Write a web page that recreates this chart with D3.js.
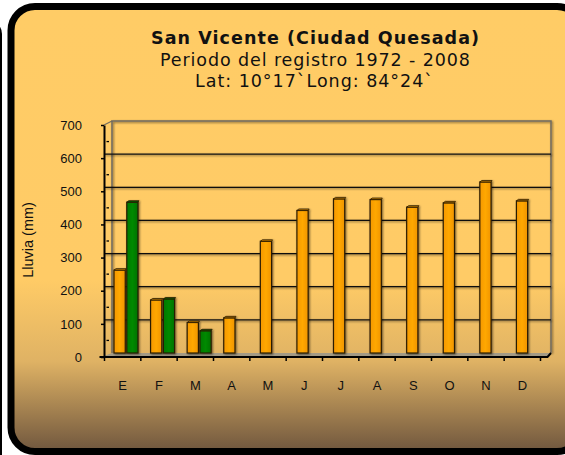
<!DOCTYPE html>
<html>
<head>
<meta charset="utf-8">
<script src="https://cdn.jsdelivr.net/npm/d3@7"></script>
<style>
  html, body { margin: 0; padding: 0; background: #fff; }
  svg { display: block; }
</style>
</head>
<body>
<div id="chart"></div>
<script>
// months (Spanish initials) and rainfall in mm
const MONTHS = ["E", "F", "M", "A", "M", "J", "J", "A", "S", "O", "N", "D"];
const SERIES = ["promedio", "registro"];
const RAIN_AVG = [250, 160, 92, 106, 337, 430, 465, 463, 440, 453, 516, 459];
const RAIN_YEAR = [455, 163, 67, null, null, null, null, null, null, null, null, null];
const Y_TICKS = [0, 100, 200, 300, 400, 500, 600, 700];
const MINOR_TICKS = [50, 150, 250, 350, 450, 550, 650];

const TITLE = "San Vicente (Ciudad Quesada)";
const SUB1 = "Periodo del registro  1972 - 2008";
const SUB2 = "Lat: 10°17`Long: 84°24`";
const Y_LABEL = "Lluvia (mm)";

var width = 565,
    height = 455;

// 3d depth offset between front axis and back wall
const DX = 8, DY = -4;

var svg = d3.select("#chart").append("svg")
  .attr("width", width)
  .attr("height", height);

var defs = svg.append("defs");
var grad = defs.append("linearGradient")
  .attr("id", "bg")
  .attr("gradientUnits", "userSpaceOnUse")
  .attr("x1", 0).attr("y1", 0).attr("x2", 0).attr("y2", 452);
grad.append("stop").attr("offset", 0).attr("stop-color", "#ffcc66");
grad.append("stop").attr("offset", 0.62).attr("stop-color", "#ffcb66");
grad.append("stop").attr("offset", 0.8).attr("stop-color", "#dfb264");
grad.append("stop").attr("offset", 1).attr("stop-color", "#6f563e");

var orangeGrad = defs.append("linearGradient").attr("id", "og")
  .attr("x1", 0).attr("x2", 1).attr("y1", 0).attr("y2", 0);
orangeGrad.append("stop").attr("offset", 0).attr("stop-color", "#f59800");
orangeGrad.append("stop").attr("offset", 0.5).attr("stop-color", "#ffa800");
orangeGrad.append("stop").attr("offset", 1).attr("stop-color", "#f09400");

var greenGrad = defs.append("linearGradient").attr("id", "gg")
  .attr("x1", 0).attr("x2", 1).attr("y1", 0).attr("y2", 0);
greenGrad.append("stop").attr("offset", 0).attr("stop-color", "#007800");
greenGrad.append("stop").attr("offset", 0.5).attr("stop-color", "#008a00");
greenGrad.append("stop").attr("offset", 1).attr("stop-color", "#007200");

// soft shadow; user space region so thin lines keep it
var blur = defs.append("filter").attr("id", "soft")
  .attr("filterUnits", "userSpaceOnUse")
  .attr("x", 0).attr("y", 0).attr("width", width).attr("height", height);
blur.append("feGaussianBlur").attr("in", "SourceAlpha").attr("stdDeviation", 1.1).attr("result", "b");
blur.append("feOffset").attr("in", "b").attr("dx", 0.5).attr("dy", 0.5).attr("result", "o");
blur.append("feComponentTransfer").attr("in", "o").attr("result", "s")
  .append("feFuncA").attr("type", "linear").attr("slope", 0.55);
var merge = blur.append("feMerge");
merge.append("feMergeNode").attr("in", "s");
merge.append("feMergeNode").attr("in", "SourceGraphic");

// neighbour panel peeking on the left
svg.append("rect")
  .attr("x", -40).attr("y", 20)
  .attr("width", 42).attr("height", 460)
  .attr("rx", 14)
  .attr("fill", "#000");

// frame
svg.append("rect")
  .attr("x", 11).attr("y", 6.5)
  .attr("width", 570).attr("height", 445)
  .attr("rx", 24)
  .attr("fill", "url(#bg)")
  .attr("stroke", "#000")
  .attr("stroke-width", 7);

// titles
var titles = svg.append("g")
  .attr("font-family", "DejaVu Sans, Verdana, sans-serif")
  .attr("text-anchor", "middle")
  .attr("fill", "#111")
  .style("white-space", "pre");
titles.append("text")
  .attr("x", 315).attr("y", 44)
  .attr("font-size", 17.5).attr("font-weight", "bold")
  .attr("textLength", 328).attr("lengthAdjust", "spacing")
  .text(TITLE);
titles.append("text")
  .attr("x", 315).attr("y", 65.5)
  .attr("font-size", 17.5)
  .attr("textLength", 310).attr("lengthAdjust", "spacing")
  .text(SUB1);
titles.append("text")
  .attr("x", 314).attr("y", 86.5)
  .attr("font-size", 17.5)
  .attr("textLength", 238).attr("lengthAdjust", "spacing")
  .text(SUB2);

// scales (back wall)
const y = d3.scaleLinear().domain([0, 700]).range([353, 121]);
const xBack = d3.scaleBand().domain(d3.range(MONTHS.length)).range([112, 551]);
const xInner = d3.scaleBand().domain(SERIES).range([2, 26]).paddingInner(0.12);
// front axis
const xFront = d3.scaleBand().domain(d3.range(MONTHS.length)).range([104.5, 540.5]);

var plot = svg.append("g");

// walls
var x0 = xBack.range()[0], x1 = xBack.range()[1];
plot.append("path")
  .attr("d", `M${x0},${y(0)}V${y(700)}H${x1}V${y(0)}`)
  .attr("fill", "none")
  .attr("stroke", "#6f6a60")
  .attr("stroke-width", 1.5)
  .attr("filter", "url(#soft)");
plot.append("line")
  .attr("x1", x0 - DX).attr("y1", y(700) - DY)
  .attr("x2", x0).attr("y2", y(700))
  .attr("stroke", "#6f6a60").attr("stroke-width", 1.2);

// gridlines
plot.append("g")
  .attr("filter", "url(#soft)")
  .selectAll("line")
  .data(Y_TICKS.filter(d => d > 0 && d < 700))
  .join("line")
    .attr("x1", x0 - DX).attr("x2", x1)
    .attr("y1", d => y(d)).attr("y2", d => y(d))
    .attr("stroke", "#111")
    .attr("stroke-width", 1.3);

// floor
plot.append("path")
  .attr("d", `M${x0},${y(0)}H${x1}L${x1 - 3},${y(0) + 3}H${x0 - DX}Z`)
  .attr("fill", "#a39a85");

// bars
var rows = [];
MONTHS.forEach((m, i) => {
  rows.push({i: i, s: "promedio", v: RAIN_AVG[i]});
  if (RAIN_YEAR[i] != null) rows.push({i: i, s: "registro", v: RAIN_YEAR[i]});
});

var bars = plot.append("g")
  .selectAll("g")
  .data(rows)
  .join("g")
    .attr("filter", "url(#soft)");

bars.append("rect")
  .attr("x", d => xBack(d.i) + xInner(d.s))
  .attr("y", d => y(d.v))
  .attr("width", xInner.bandwidth())
  .attr("height", d => y(0) - y(d.v))
  .attr("fill", d => d.s === "promedio" ? "url(#og)" : "url(#gg)")
  .attr("stroke", "#2b1c05")
  .attr("stroke-width", 1.2);

bars.append("path")
  .attr("d", d => {
    var bx = xBack(d.i) + xInner(d.s), by = y(d.v), w = xInner.bandwidth();
    return `M${bx},${by}L${bx + 2},${by - 1.5}H${bx + w + 1}L${bx + w},${by}Z`;
  })
  .attr("fill", d => d.s === "promedio" ? "#c98000" : "#005a00")
  .attr("stroke", "#2b1c05")
  .attr("stroke-width", 0.8);

// y axis (front)
var yFront = d3.scaleLinear().domain([0, 700]).range([y(0) - DY, y(700) - DY]);
var yAxis = plot.append("g")
  .attr("transform", `translate(${x0 - DX},0)`)
  .call(d3.axisLeft(yFront).tickValues(Y_TICKS).tickSize(3).tickPadding(19).tickSizeOuter(0));
yAxis.select(".domain").attr("stroke", "#000").attr("stroke-width", 2);
yAxis.selectAll(".tick line").attr("stroke", "#000").attr("stroke-width", 1.5);
yAxis.selectAll("text")
  .attr("font-family", "Liberation Sans, Arial, sans-serif")
  .attr("font-size", 13)
  .attr("fill", "#111");

// minor marks inside the axis
plot.append("g")
  .selectAll("line")
  .data(MINOR_TICKS)
  .join("line")
    .attr("x1", x0 - DX + 2.5).attr("x2", x0 - DX + 5)
    .attr("y1", d => yFront(d)).attr("y2", d => yFront(d))
    .attr("stroke", "#000")
    .attr("stroke-width", 1.3);

// x axis (front)
var fy = y(0) - DY;
var xa = plot.append("g");
xa.append("path")
  .attr("d", `M${xFront.range()[0] - 5},${fy}H${xFront.range()[1] + 7}L${x1},${y(0)}`)
  .attr("fill", "none")
  .attr("stroke", "#000")
  .attr("stroke-width", 2);
var bounds = d3.range(MONTHS.length).map(i => xFront(i)).concat([xFront.range()[1]]);
xa.selectAll("line")
  .data(bounds)
  .join("line")
    .attr("x1", d => d).attr("x2", d => d)
    .attr("y1", fy).attr("y2", fy + 4)
    .attr("stroke", "#000")
    .attr("stroke-width", 1.5);
xa.selectAll("text")
  .data(MONTHS)
  .join("text")
    .attr("x", (d, i) => xFront(i) + xFront.bandwidth() / 2)
    .attr("y", 390)
    .attr("text-anchor", "middle")
    .attr("font-family", "Liberation Sans, Arial, sans-serif")
    .attr("font-size", 13)
    .attr("fill", "#111")
    .text(d => d);

// y axis title
svg.append("text")
  .attr("transform", "translate(33,240) rotate(-90)")
  .attr("text-anchor", "middle")
  .attr("font-family", "Liberation Sans, Arial, sans-serif")
  .attr("font-size", 14.5)
  .attr("fill", "#111")
  .text(Y_LABEL);
</script>
</body>
</html>
